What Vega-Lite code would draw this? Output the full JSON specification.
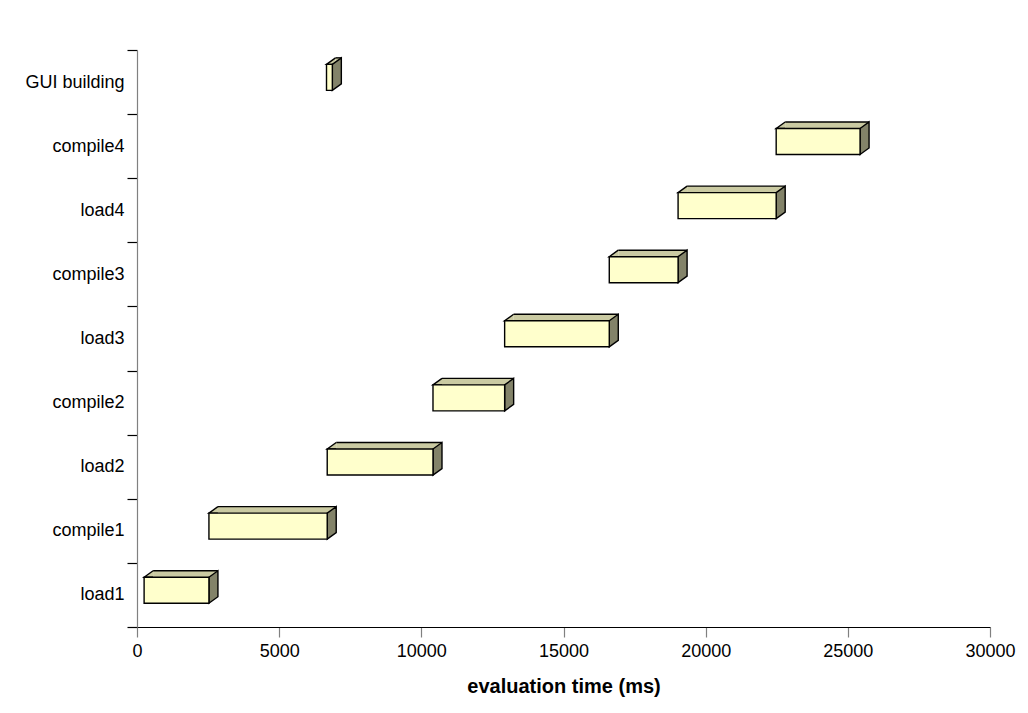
{
  "$schema": "https://vega.github.io/schema/vega-lite/v6.json",
  "width": 853,
  "height": 577,
  "autosize": {"type": "none"},
  "padding": {"left": 137, "top": 50, "right": 38, "bottom": 86},
  "background": "white",
  "config": {
    "view": {"stroke": null},
    "font": "Liberation Sans",
    "axis": {"labelFont": "Liberation Sans", "titleFont": "Liberation Sans", "labelColor": "black", "titleColor": "black", "grid": false}
  },
  "data": {
    "values": [
      {"task": "load1", "start": 250, "end": 2530},
      {"task": "compile1", "start": 2530, "end": 6690},
      {"task": "load2", "start": 6690, "end": 10410},
      {"task": "compile2", "start": 10410, "end": 12930},
      {"task": "load3", "start": 12930, "end": 16610},
      {"task": "compile3", "start": 16610, "end": 19030},
      {"task": "load4", "start": 19030, "end": 22480},
      {"task": "compile4", "start": 22480, "end": 25430},
      {"task": "GUI building", "start": 6665, "end": 6870}
    ]
  },
  "encoding": {
    "y": {
      "field": "task",
      "type": "nominal",
      "scale": {
        "domain": ["GUI building", "compile4", "load4", "compile3", "load3", "compile2", "load2", "compile1", "load1"],
        "paddingInner": 0,
        "paddingOuter": 0
      },
      "axis": {
        "title": null,
        "tickBand": "extent",
        "domainColor": "#808080",
        "domainWidth": 1.2,
        "tickColor": "black",
        "tickWidth": 1.2,
        "tickSize": 10,
        "labelFontSize": 18,
        "labelPadding": 3
      }
    }
  },
  "layer": [
    {
      "mark": {"type": "bar", "fill": "#CACAA2", "size": 6.5, "yOffset": -20.95, "xOffset": 9, "x2Offset": 9, "stroke": null},
      "encoding": {
        "x": {
          "field": "start",
          "type": "quantitative",
          "scale": {"domain": [0, 30000], "nice": false},
          "axis": {
            "values": [0, 5000, 10000, 15000, 20000, 25000, 30000],
            "title": "evaluation time (ms)",
            "titleFontSize": 20,
            "titleFontWeight": "bold",
            "titlePadding": 16,
            "domainColor": "black",
            "domainWidth": 1.2,
            "tickColor": "#808080",
            "tickWidth": 1.2,
            "tickSize": 10,
            "labelFontSize": 18,
            "labelPadding": 5,
            "format": "d",
            "labelFlush": false
          }
        },
        "x2": {"field": "end"}
      }
    },
    {
      "mark": {"type": "rule", "stroke": "black", "strokeWidth": 1.4, "xOffset": 9, "x2Offset": 9, "yOffset": -24.2},
      "encoding": {
        "x": {"field": "start", "type": "quantitative"},
        "x2": {"field": "end"}
      }
    },
    {
      "mark": {"type": "point", "shape": "M9,-17.7 L0,-17.7 L9,-24.2", "size": 4, "filled": true, "fill": "#CACAA2", "stroke": "black", "strokeWidth": 1.4, "opacity": 1},
      "encoding": {
        "x": {"field": "start", "type": "quantitative"}
      }
    },
    {
      "mark": {"type": "point", "shape": "M0,-17.7 L9,-24.2 L9,1.8 L0,8.3 Z", "size": 4, "filled": true, "fill": "#838369", "stroke": "black", "strokeWidth": 1.4, "opacity": 1, "strokeJoin": "miter"},
      "encoding": {
        "x": {"field": "end", "type": "quantitative"}
      }
    },
    {
      "mark": {"type": "bar", "fill": "#FFFFCC", "size": 26, "yOffset": -4.7, "stroke": "black", "strokeWidth": 1.4},
      "encoding": {
        "x": {"field": "start", "type": "quantitative"},
        "x2": {"field": "end"}
      }
    }
  ]
}
